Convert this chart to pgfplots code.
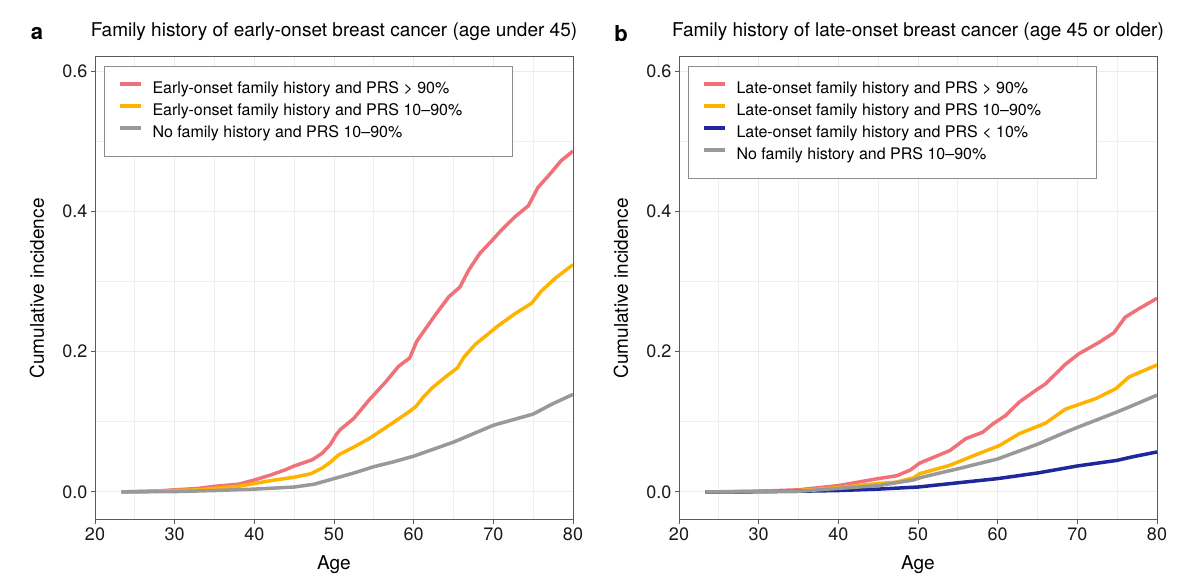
\documentclass[border=0pt]{standalone}
\usepackage{fontspec}
\setmainfont{TeX Gyre Heros}
\usepackage{pgfplots}
\pgfplotsset{compat=1.18}

\definecolor{cred}{RGB}{240,113,120}
\definecolor{cyel}{RGB}{255,179,0}
\definecolor{cgry}{RGB}{153,153,153}
\definecolor{cblu}{RGB}{28,40,155}
\definecolor{axc}{RGB}{90,90,90}
\definecolor{gridc}{RGB}{235,235,235}

\newcommand{\lent}[1]{\makebox[347pt][l]{#1}}

\pgfplotsset{
  panel/.style={
    width=478pt, height=463pt, scale only axis,
    xmin=20, xmax=80, ymin=-0.04, ymax=0.62,
    xtick={20,30,...,80}, minor xtick={25,35,...,75},
    ytick={0,0.2,0.4,0.6}, minor ytick={0.1,0.3,0.5},
    /pgf/number format/assume math mode=true,
    y tick label style={/pgf/number format/.cd, fixed, fixed zerofill, precision=1, /tikz/.cd},
    tick label style={font=\fontsize{18}{21}\selectfont, text=black!90},
    xtick pos=bottom, ytick pos=left,
    tick align=outside, major tick length=4pt, minor tick length=0pt,
    tick style={color=axc, line width=1pt},
    axis line style={color=axc, line width=1pt},
    grid=both,
    major grid style={draw=gridc, line width=1pt},
    minor grid style={draw=gridc!80, line width=1pt},
    xlabel=Age,
    xlabel style={font=\fontsize{19}{22}\selectfont, at={(axis description cs:0.5,-0.0972)}, anchor=center},
    ylabel=Cumulative incidence,
    ylabel style={font=\fontsize{19}{22}\selectfont, at={(axis description cs:-0.1213,0.5)}, anchor=center},
    title style={font=\fontsize{19}{22}\selectfont, at={(axis description cs:0.5,1.041)}, anchor=center},
    legend cell align=left,
    legend style={at={(0,1)}, anchor=north west, xshift=9pt, yshift=-9pt,
      draw=black!45, line width=1pt, fill=white,
      inner xsep=13pt, inner ysep=15pt, row sep=6pt, column sep=10pt,
      font=\fontsize{16}{19}\selectfont,
      nodes={inner sep=0pt, text height=12pt, text depth=4pt}},
    legend image code/.code={\draw[line width=4pt] (0pt,5pt) -- (21pt,5pt);},
    every axis plot/.append style={line width=3.5pt, line join=round},
  }
}

\begin{document}
\begin{tikzpicture}
\useasboundingbox (0,0) rectangle (1200pt,586pt);

% panel a
\begin{axis}[panel, at={(95pt,66pt)}, anchor=south west,
  title={Family history of early-onset breast cancer (age under 45)}]
\addplot[cred] coordinates {
 (23.3,0) (25,0.0005) (28,0.0015) (30,0.003) (33,0.005) (35,0.008) (37,0.010)
 (38,0.011) (40,0.017) (42,0.024) (44,0.032) (45,0.037) (47.3,0.046) (48.5,0.055)
 (49.5,0.067) (50.3,0.082) (50.8,0.089) (52.5,0.105) (54.4,0.131) (56.5,0.157)
 (58.1,0.179) (59.5,0.191) (60.4,0.215) (62.7,0.252) (64.4,0.278) (65.8,0.292)
 (66.9,0.316) (68.3,0.340) (69.8,0.358) (71,0.373) (72.7,0.392) (74.4,0.408)
 (75.6,0.434) (77.1,0.453) (78.5,0.472) (80,0.486)
};
\addlegendentry{\lent{Early-onset family history and PRS > 90\%}}
\addplot[cyel] coordinates {
 (23.3,0) (27,0.001) (30,0.002) (33,0.003) (35,0.005) (38,0.008) (40,0.012)
 (42,0.016) (45,0.021) (47.1,0.026) (48.5,0.034) (49.5,0.042) (50.6,0.053)
 (52.5,0.064) (54.4,0.076) (56,0.088) (58.1,0.104) (59.5,0.115) (60.3,0.122)
 (61.2,0.135) (62.3,0.148) (64,0.164) (65.5,0.177) (66.3,0.192) (67.7,0.210)
 (69,0.222) (70.5,0.236) (72.7,0.254) (74.8,0.269) (76,0.286) (77.7,0.304) (80,0.324)
};
\addlegendentry{\lent{Early-onset family history and PRS 10–90\%}}
\addplot[cgry] coordinates {
 (23.3,0) (30,0.0005) (35,0.002) (40,0.004) (45,0.007) (47.5,0.011) (50,0.019)
 (52.5,0.027) (55,0.036) (57.5,0.043) (60,0.051) (62.5,0.061) (65,0.071)
 (67.5,0.083) (70,0.095) (72.5,0.103) (75,0.111) (77.5,0.126) (80,0.139)
};
\addlegendentry{\lent{No family history and PRS 10–90\%}}
\end{axis}

% panel b
\begin{axis}[panel, at={(679pt,66pt)}, anchor=south west,
  title={Family history of late-onset breast cancer (age 45 or older)}]
\addplot[cred] coordinates {
 (23.3,0) (30,0.001) (35,0.003) (40,0.009) (45,0.019) (47.3,0.023) (49,0.031)
 (50.2,0.041) (52.3,0.051) (54,0.059) (56,0.076) (58.1,0.085) (59.4,0.097)
 (61,0.109) (62.7,0.128) (64.8,0.145) (66,0.154) (68.5,0.182) (70.2,0.197)
 (72.7,0.213) (74.6,0.227) (76,0.249) (77.7,0.261) (80,0.276)
};
\addlegendentry{\lent{Late-onset family history and PRS > 90\%}}
\addplot[cyel] coordinates {
 (23.3,0) (30,0.0007) (35,0.002) (40,0.006) (45,0.012) (47.3,0.014) (49.4,0.020)
 (50.2,0.026) (54,0.038) (57.7,0.055) (60.2,0.066) (62.7,0.083) (66,0.098)
 (68.5,0.118) (72.3,0.133) (74.8,0.147) (76.5,0.164) (80,0.181)
};
\addlegendentry{\lent{Late-onset family history and PRS 10–90\%}}
\addplot[cblu] coordinates {
 (23.3,0) (30,0.0003) (35,0.001) (40,0.002) (45,0.004) (50,0.007) (55,0.013)
 (60,0.019) (65,0.027) (70,0.037) (75,0.045) (76.9,0.050) (80,0.057)
};
\addlegendentry{\lent{Late-onset family history and PRS < 10\%}}
\addplot[cgry] coordinates {
 (23.3,0) (30,0.0005) (35,0.001) (40,0.005) (45,0.009) (49.4,0.017) (50.5,0.021)
 (55,0.033) (60,0.047) (65,0.068) (68.5,0.085) (70,0.092) (75,0.114)
 (76.9,0.123) (80,0.138)
};
\addlegendentry{\lent{No family history and PRS 10–90\%}}
\end{axis}

\node[font=\bfseries\fontsize{22}{26}\selectfont] at (37pt,552pt) {a};
\node[font=\bfseries\fontsize{22}{26}\selectfont] at (621pt,552pt) {b};
\end{tikzpicture}
\end{document}
